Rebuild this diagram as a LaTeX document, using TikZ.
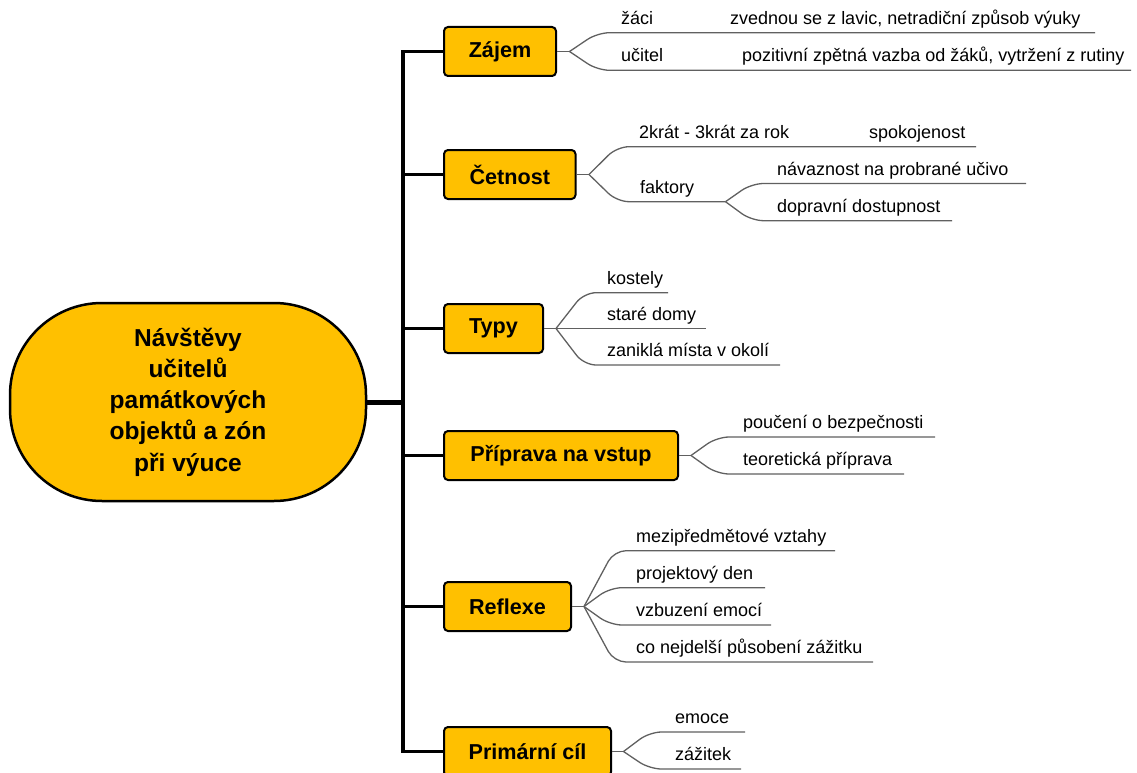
\documentclass[tikz,border=0pt]{standalone}
\usepackage{fontspec}
\setmainfont{Liberation Sans}
\definecolor{topicfill}{HTML}{FFC000}
\definecolor{twigcol}{HTML}{606060}
\tikzset{
  central/.style={draw=black, line width=2.5pt, fill=topicfill, minimum width=356pt, minimum height=198pt,
    rounded corners=92pt, inner sep=0pt, align=center, font=\fontsize{24.5}{31.3}\selectfont\bfseries},
  topic/.style={draw=black, line width=2pt, fill=topicfill, rounded corners=4pt, minimum height=49pt,
    inner sep=0pt, anchor=west, font=\fontsize{21.6}{26}\selectfont\bfseries},
  leaf/.style={anchor=base west, inner sep=0pt, font=\fontsize{18}{21}\selectfont},
  twig/.style={draw=twigcol, line width=1.3pt, rounded corners=12pt},
  trunkline/.style={draw=black, line width=3.5pt, line join=miter},
  armline/.style={draw=black, line width=3pt},
}
\begin{document}
\begin{tikzpicture}[x=1pt,y=-1pt]
\useasboundingbox (0,0) rectangle (1137,773);

% central topic
\node[central] (c) at (188,402) {Návštěvy\\učitelů\\památkových\\objektů a zón\\při výuce};

% main topics
\node[topic, minimum width=112pt] (t1) at (443,51.5) {Zájem};
\node[topic, minimum width=131.5pt] (t2) at (443,174.5) {Četnost};
\node[topic, minimum width=99pt] (t3) at (443,328.5) {Typy};
\node[topic, minimum width=234pt] (t4) at (443,455.5) {Příprava na vstup};
\node[topic, minimum width=127pt] (t5) at (443,606.5) {Reflexe};
\node[topic, minimum width=167pt] (t6) at (443,751.5) {Primární cíl};

% trunk
\coordinate (ktop) at (403,51.5);
\coordinate (kmid) at (403,402);
\coordinate (kbot) at (403,751.5);
\draw[line width=5pt] (c.east) -- (kmid);
\draw[trunkline] (t1.west) -- (ktop) -- (kbot) -- (t6.west);
\draw[armline] (t2.west) -- (t2.west -| ktop);
\draw[armline] (t3.west) -- (t3.west -| ktop);
\draw[armline] (t4.west) -- (t4.west -| ktop);
\draw[armline] (t5.west) -- (t5.west -| ktop);

% branch points
\coordinate (b1) at (569.5,51.5);
\coordinate (b2) at (589,174.5);
\coordinate (b3) at (725.5,201.7);
\coordinate (b4) at (556,328.5);
\coordinate (b5) at (691,455.5);
\coordinate (b6) at (584,606.5);
\coordinate (b7) at (623.5,751.5);
\draw[twig] (t1.east) -- (b1);
\draw[twig] (t2.east) -- (b2);
\draw[twig] (t3.east) -- (b4);
\draw[twig] (t4.east) -- (b5);
\draw[twig] (t5.east) -- (b6);
\draw[twig] (t6.east) -- (b7);

% Zájem
\coordinate (e11) at (1095,32.7);
\coordinate (e12) at (1131,70.3);
\draw[twig] (b1) -- ++(28,-18.8) -- (e11);
\draw[twig] (b1) -- ++(28,18.8) -- (e12);
\node[leaf] (l11) at (621,24.2) {žáci};
\node[leaf] (l11a) at (730,24.2) {zvednou se z lavic, netradiční způsob výuky};
\node[leaf] (l12) at (621,61.8) {učitel};
\node[leaf] (l12a) at (742,61.8) {pozitivní zpětná vazba od žáků, vytržení z rutiny};

% Četnost
\coordinate (e21) at (976,146.7);
\draw[twig] (b2) -- ++(28,-27.8) -- (e21);
\draw[twig] (b2) -- ++(28,27.2) -- (b3);
\coordinate (e23) at (1026,183.5);
\coordinate (e24) at (952,220.7);
\draw[twig] (b3) -- ++(26,-18.2) -- (e23);
\draw[twig] (b3) -- ++(26,19) -- (e24);
\node[leaf] (l21) at (639,138.2) {2krát - 3krát za rok};
\node[leaf] (l21a) at (869,138.2) {spokojenost};
\node[leaf] (l22) at (640,193.2) {faktory};
\node[leaf] (l23) at (777,175) {návaznost na probrané učivo};
\node[leaf] (l24) at (777,212.2) {dopravní dostupnost};

% Typy
\coordinate (e31) at (668,292.7);
\coordinate (e32) at (706,328.5);
\coordinate (e33) at (780,365);
\draw[twig] (b4) -- ++(28,-35.8) -- (e31);
\draw[twig] (b4) -- (e32);
\draw[twig] (b4) -- ++(28,36.5) -- (e33);
\node[leaf] (l31) at (607,284.2) {kostely};
\node[leaf] (l32) at (607,320) {staré domy};
\node[leaf] (l33) at (607,356.5) {zaniklá místa v okolí};

% Příprava na vstup
\coordinate (e41) at (935,437);
\coordinate (e42) at (904,474);
\draw[twig] (b5) -- ++(26,-18.5) -- (e41);
\draw[twig] (b5) -- ++(26,18.5) -- (e42);
\node[leaf] (l41) at (743,428.5) {poučení o bezpečnosti};
\node[leaf] (l42) at (743,465.5) {teoretická příprava};

% Reflexe
\coordinate (e51) at (835,550.7);
\coordinate (e52) at (765,587.7);
\coordinate (e53) at (771,625);
\coordinate (e54) at (873,662);
\draw[twig] (b6) -- ++(30,-55.8) -- (e51);
\draw[twig] (b6) -- ++(26,-18.8) -- (e52);
\draw[twig] (b6) -- ++(26,18.5) -- (e53);
\draw[twig] (b6) -- ++(30,55.5) -- (e54);
\node[leaf] (l51) at (636,542.2) {mezipředmětové vztahy};
\node[leaf] (l52) at (636,579.2) {projektový den};
\node[leaf] (l53) at (636,616.5) {vzbuzení emocí};
\node[leaf] (l54) at (636,653.5) {co nejdelší působení zážitku};

% Primární cíl
\coordinate (e61) at (745,732);
\coordinate (e62) at (741,769);
\draw[twig] (b7) -- ++(26,-19.5) -- (e61);
\draw[twig] (b7) -- ++(26,17.5) -- (e62);
\node[leaf] (l61) at (675,723.5) {emoce};
\node[leaf] (l62) at (675,760.5) {zážitek};
\end{tikzpicture}
\end{document}
